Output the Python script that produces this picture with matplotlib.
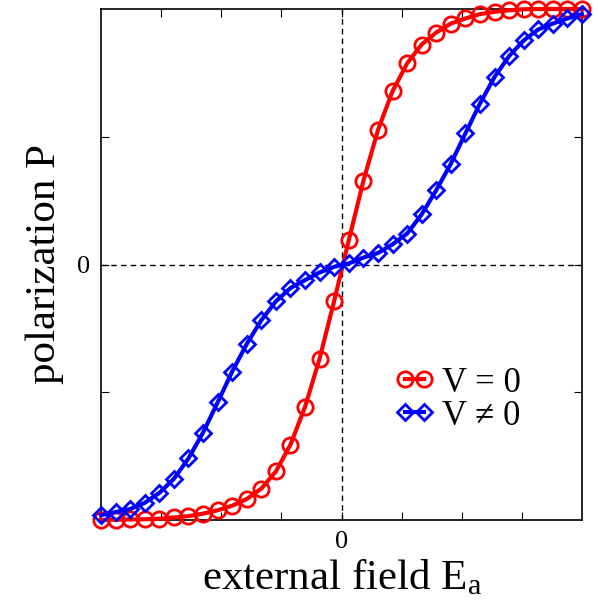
import numpy as np
import matplotlib
matplotlib.use("Agg")
import matplotlib.pyplot as plt

plt.rcParams['font.family'] = ['Liberation Serif', 'DejaVu Serif']
plt.rcParams['mathtext.fontset'] = 'stix'

# field values (34 points from -4 to 4)
E = np.linspace(-4, 4, 34)
# V = 0 curve (red circles)
P_v0 = [-1.0, -0.999, -0.998, -0.997, -0.995, -0.99, -0.985, -0.975, -0.962, -0.944,
        -0.918, -0.877, -0.81, -0.705, -0.557, -0.368, -0.142, 0.095, 0.327, 0.526,
        0.678, 0.787, 0.861, 0.908, 0.943, 0.963, 0.98, 0.989, 0.995, 0.999,
        1.0, 1.0, 1.0, 1.0]
# V != 0 curve (blue diamonds)
P_v1 = [-0.981, -0.969, -0.957, -0.933, -0.894, -0.839, -0.759, -0.658, -0.54, -0.419,
        -0.311, -0.218, -0.144, -0.092, -0.061, -0.031, -0.009, 0.004, 0.027, 0.045,
        0.079, 0.121, 0.196, 0.291, 0.394, 0.513, 0.63, 0.734, 0.816, 0.877,
        0.92, 0.943, 0.963, 0.98]

fig = plt.figure(figsize=(5.98, 6.13), dpi=100)
ax = fig.add_axes([101/598, 1-520/613, 481/598, 511/613])

# dashed zero lines
ax.axvline(0, color='black', lw=1, ls=(0, (4, 3)), zorder=1)
ax.axhline(0, color='black', lw=1, ls=(0, (4, 3)), zorder=1)

ax.plot(E, P_v0, color='red', lw=3, marker='o', ms=11, mfc='none', mew=2,
        label='V = 0', clip_on=False, zorder=3)
ax.plot(E, P_v1, color='blue', lw=3, marker='D', ms=8.5, mfc='none', mew=2,
        label='V \u2260 0', clip_on=False, zorder=4)

ax.set_xlim(-4, 4)
ax.set_ylim(-1, 1)
ax.set_xticks([-3, -2, -1, 0, 1, 2, 3])
ax.set_xticklabels(['', '', '', '0', '', '', ''])
ax.set_yticks([-0.5, 0, 0.5])
ax.set_yticklabels(['', '0', ''])
ax.tick_params(direction='in', top=True, right=True, length=6, width=0.8,
               labelsize=19, pad=8)
for s in ax.spines.values():
    s.set_linewidth(1.2)

fig.text(0.075, 1 - 264/613, 'polarization P', rotation=90, fontsize=31,
         ha='center', va='center')
fig.text(342/598, 1 - 578/613, 'external field E$_\\mathregular{a}$', fontsize=31,
         ha='center', va='center')

leg = ax.legend(loc='lower left', bbox_to_anchor=(0.575, 0.137), frameon=False,
                fontsize=25, handlelength=1.15, handletextpad=0.2,
                labelspacing=0.0, borderpad=0, numpoints=2)

fig.savefig('out.png', dpi=100)
